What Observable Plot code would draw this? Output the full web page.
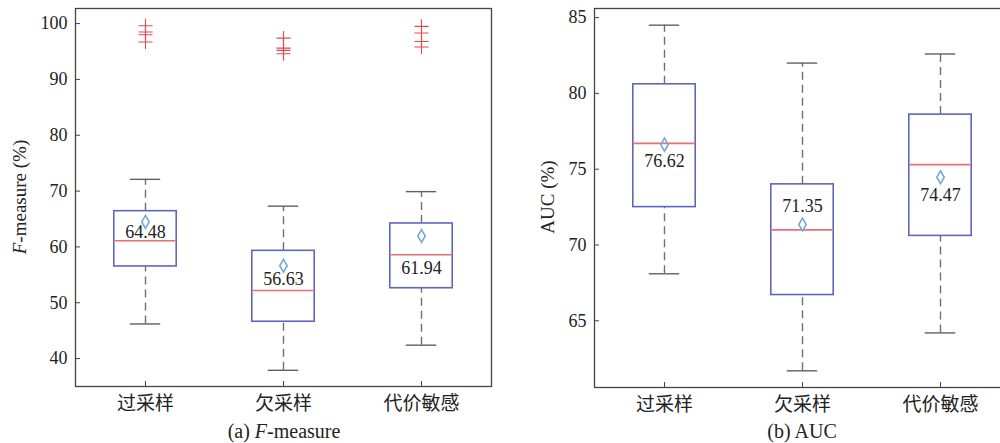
<!DOCTYPE html>
<html>
<head>
<meta charset="utf-8">
<script src="https://cdn.jsdelivr.net/npm/d3@7"></script>
<script src="https://cdn.jsdelivr.net/npm/@observablehq/plot@0.6"></script>
<style>
  html, body { margin: 0; padding: 0; background: #fff; overflow: hidden; }
  #wrap { position: relative; width: 1000px; height: 443px; overflow: hidden; font-family: "Liberation Serif", serif; color: #222; }
  .panel { position: absolute; top: 0; }
  .panel svg { max-width: none !important; }
  .ylab { position: absolute; font-size: 19px; white-space: nowrap; transform: translate(-50%, -50%) rotate(-90deg); }
  .cap { position: absolute; font-size: 20px; white-space: nowrap; transform: translate(-50%, -50%); }
</style>
</head>
<body>
<div id="wrap">
  <div class="panel" id="pa" style="left:0px; width:500px"></div>
  <div class="panel" id="pb" style="left:500px; width:520px"></div>
  <div class="ylab" style="left:20px; top:197px"><i>F</i>-measure (%)</div>
  <div class="ylab" style="left:548px; top:197px">AUC (%)</div>
  <div class="cap" style="left:284px; top:431px">(a) <i>F</i>-measure</div>
  <div class="cap" style="left:802px; top:431px">(b) AUC</div>
</div>
<script>
// ---- data ----
const categories = ["过采样", "欠采样", "代价敏感"];

// (a) F-measure (%)
const fLow    = [46.2, 37.9, 42.4];
const fQ1     = [56.5, 46.6, 52.6];
const fMedian = [61.1, 52.2, 58.6];
const fQ3     = [66.4, 59.3, 64.2];
const fHigh   = [72.1, 67.3, 69.9];
const fMean   = [64.48, 56.63, 61.94];
const fOutliers = [
  [99.6, 98.5, 98.0, 96.7],
  [97.4, 95.6, 95.2, 94.6],
  [99.5, 98.3, 96.8, 95.8]
];
const fTicks = [40, 50, 60, 70, 80, 90, 100];

// (b) AUC (%)
const aLow    = [68.1, 61.7, 64.2];
const aQ1     = [72.5, 66.7, 70.6];
const aMedian = [76.7, 71.0, 75.3];
const aQ3     = [80.6, 74.0, 78.6];
const aHigh   = [84.5, 82.0, 82.6];
const aMean   = [76.62, 71.35, 74.47];
const aOutliers = [[], [], []];
const aTicks = [65, 70, 75, 80, 85];

// ---- drawing ----
function panel(cfg) {
  const rows = categories.map((c, i) => ({
    cat: c, low: cfg.low[i], q1: cfg.q1[i], median: cfg.median[i],
    q3: cfg.q3[i], high: cfg.high[i], mean: cfg.mean[i]
  }));
  const outs = categories.flatMap((c, i) => cfg.outliers[i].map(v => ({cat: c, v})));
  const boxInset = 37.8, capInset = 53.8;
  const labels = rows.map((r, i) => Plot.text([r], {
    x: "cat", y: "mean", text: d => d.mean.toFixed(2), dy: cfg.labelDy[i],
    fontSize: 18, fill: "#222", fontFamily: "Liberation Serif"
  }));
  return Plot.plot({
    width: cfg.width, height: 443,
    marginLeft: cfg.marginLeft, marginRight: cfg.marginRight,
    marginTop: cfg.marginTop, marginBottom: cfg.marginBottom,
    style: {fontFamily: "Liberation Serif", fontSize: "18px", color: "#222", background: "transparent", maxWidth: "none"},
    x: {type: "band", domain: categories, padding: 0},
    y: {domain: cfg.domain},
    marks: [
      Plot.ruleX(rows, {x: "cat", y1: "q3", y2: "high", stroke: "#707070", strokeWidth: 1.4, strokeDasharray: "8,5"}),
      Plot.ruleX(rows, {x: "cat", y1: "low", y2: "q1", stroke: "#707070", strokeWidth: 1.4, strokeDasharray: "8,5"}),
      Plot.tickY(rows, {x: "cat", y: "high", stroke: "#606060", strokeWidth: 1.4, insetLeft: capInset, insetRight: capInset}),
      Plot.tickY(rows, {x: "cat", y: "low", stroke: "#606060", strokeWidth: 1.4, insetLeft: capInset, insetRight: capInset}),
      Plot.barY(rows, {x: "cat", y1: "q1", y2: "q3", fill: "white", stroke: "#5f68b8", strokeWidth: 1.6, insetLeft: boxInset, insetRight: boxInset}),
      Plot.tickY(rows, {x: "cat", y: "median", stroke: "#ec6d72", strokeWidth: 1.6, insetLeft: boxInset + 1, insetRight: boxInset + 1}),
      Plot.dot(rows, {x: "cat", y: "mean", symbol: "diamond", r: 3.9, stroke: "#72aad6", fill: "none", strokeWidth: 1.6}),
      ...labels,
      Plot.dot(outs, {x: "cat", y: "v", symbol: "plus", r: 4.6, stroke: "#e04a50", strokeWidth: 1.1}),
      Plot.frame({stroke: "#444", strokeWidth: 1.3}),
      Plot.axisY(cfg.ticks, {tickSize: -5, tickPadding: 13, fontSize: 18, label: null, stroke: "#444"}),
      Plot.axisX({tickSize: -5, tickPadding: 15, fontSize: 19, label: null, fontFamily: "Noto Sans CJK SC", stroke: "#444"})
    ]
  });
}

document.getElementById("pa").appendChild(panel({
  low: fLow, q1: fQ1, median: fMedian, q3: fQ3, high: fHigh, mean: fMean,
  outliers: fOutliers, ticks: fTicks, domain: [35.0, 102.7],
  labelDy: [10, 14, 32],
  width: 500, marginLeft: 75, marginRight: 9, marginTop: 8, marginBottom: 57
}));

document.getElementById("pb").appendChild(panel({
  low: aLow, q1: aQ1, median: aMedian, q3: aQ3, high: aHigh, mean: aMean,
  outliers: aOutliers, ticks: aTicks, domain: [60.6, 85.6],
  labelDy: [17, -18, 18],
  width: 520, marginLeft: 94, marginRight: 10, marginTop: 8, marginBottom: 56
}));
</script>
</body>
</html>
